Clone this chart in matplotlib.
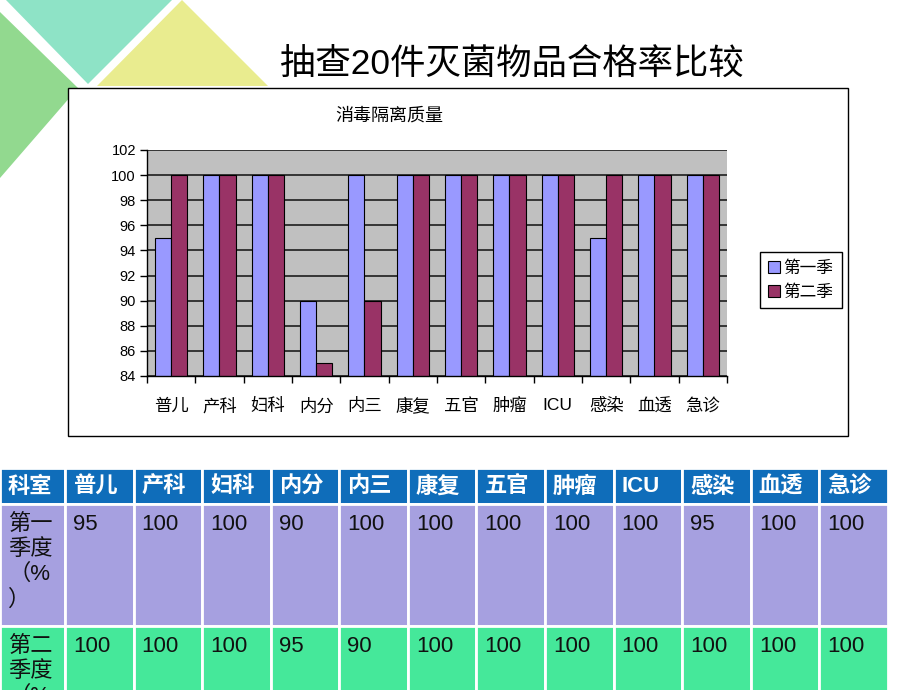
import matplotlib.pyplot as plt
from matplotlib.patches import Polygon, Rectangle

plt.rcParams['font.family'] = ['Liberation Sans', 'Noto Sans CJK SC', 'DejaVu Sans']

# chart data
categories = ['普儿', '产科', '妇科', '内分', '内三', '康复', '五官', '肿瘤', 'ICU', '感染', '血透', '急诊']
chart_q1 = [95, 100, 100, 90, 100, 100, 100, 100, 100, 95, 100, 100]
chart_q2 = [100, 100, 100, 85, 90, 100, 100, 100, 100, 100, 100, 100]
series_names = ['第一季', '第二季']

# table data (as printed on the slide)
table_head = '科室'
table_rows = ['第一\n季度\n（%\n）', '第二\n季度\n（%\n）']
table_q1 = ['95', '100', '100', '90', '100', '100', '100', '100', '100', '95', '100', '100']
table_q2 = ['100', '100', '100', '95', '90', '100', '100', '100', '100', '100', '100', '100']

fig = plt.figure(figsize=(9.2, 6.9), dpi=100)
W, H = 920, 690

# background layer in pixel coordinates
bg = fig.add_axes([0, 0, 1, 1])
bg.set_xlim(0, W)
bg.set_ylim(H, 0)
bg.axis('off')

# decorative triangles
bg.add_patch(Polygon([(0, 12), (78, 88), (0, 178)], closed=True, color='#92D98F', lw=0))
bg.add_patch(Polygon([(6, 0), (172, 0), (88, 84)], closed=True, color='#8EE3C6', lw=0))
bg.add_patch(Polygon([(97, 86), (182, 0), (268, 86)], closed=True, color='#E9EC8F', lw=0))

bg.text(512, 64, '抽查20件灭菌物品合格率比较', ha='center', va='center', fontsize=25.5)

# chart frame
bg.add_patch(Rectangle((68, 88), 780, 348, facecolor='white', edgecolor='black', lw=1))
bg.text(389, 116, '消毒隔离质量', ha='center', va='center', fontsize=13)

# bar chart
px_l, px_r, px_t, px_b = 147, 727, 150, 376
ax = fig.add_axes([px_l / W, 1 - px_b / H, (px_r - px_l) / W, (px_b - px_t) / H])
ax.set_facecolor('#C0C0C0')
x = list(range(len(categories)))
w = 1 / 3
ax.bar([i - w / 2 for i in x], chart_q1, width=w, color='#9999FF', edgecolor='black', lw=0.8, label=series_names[0])
ax.bar([i + w / 2 for i in x], chart_q2, width=w, color='#993366', edgecolor='black', lw=0.8, label=series_names[1])
ax.set_ylim(84, 102)
ax.set_xlim(-0.5, len(categories) - 0.5)
ax.set_yticks(range(84, 103, 2))
ax.yaxis.grid(True, color='#2a2a2a', lw=1.3)
ax.set_axisbelow(True)
ax.set_xticks(x)
ax.set_xticklabels(categories, fontsize=12.5)
ax.set_xticks([i - 0.5 for i in range(len(categories) + 1)], minor=True)
ax.tick_params(axis='x', which='major', length=0, pad=16)
ax.tick_params(axis='x', which='minor', length=5, direction='out', width=1)
ax.tick_params(axis='y', labelsize=10.5, length=5, direction='out', width=1, pad=3)
for s in ['top', 'right']:
    ax.spines[s].set_visible(False)
for s in ['left', 'bottom']:
    ax.spines[s].set_color('black')
    ax.spines[s].set_linewidth(1)

leg = ax.legend(loc='upper left', bbox_to_anchor=(760 / W, 1 - 252 / H), bbox_transform=fig.transFigure,
                fontsize=12, handlelength=0.7, handleheight=0.8, handletextpad=0.2, borderpad=0.5,
                labelspacing=0.5, fancybox=False, framealpha=1, borderaxespad=0)
leg.get_frame().set_edgecolor('black')
leg.get_frame().set_linewidth(1)

# table below the chart
col_edges = [0, 65] + [65 + (888 - 65) / 12 * (k + 1) for k in range(12)]
row_edges = [468, 504, 626, 748]
row_colors = ['#0F6DBA', '#A6A0E0', '#45E89A']
header = [table_head] + categories
body = [[table_rows[0]] + table_q1, [table_rows[1]] + table_q2]

for r in range(3):
    for c in range(13):
        x0, x1 = col_edges[c], col_edges[c + 1]
        y0, y1 = row_edges[r], row_edges[r + 1]
        bg.add_patch(Rectangle((x0, y0), x1 - x0, y1 - y0, facecolor=row_colors[r], edgecolor='white', lw=2))
        if r == 0:
            bg.text(x0 + 8, (y0 + y1) / 2 + 1, header[c], ha='left', va='center', fontsize=16,
                    fontweight='bold', color='white')
        else:
            bg.text(x0 + 8, y0 + 10, body[r - 1][c], ha='left', va='top', fontsize=16,
                    color='#111111', linespacing=1.25)

fig.savefig('out.png', dpi=100)
